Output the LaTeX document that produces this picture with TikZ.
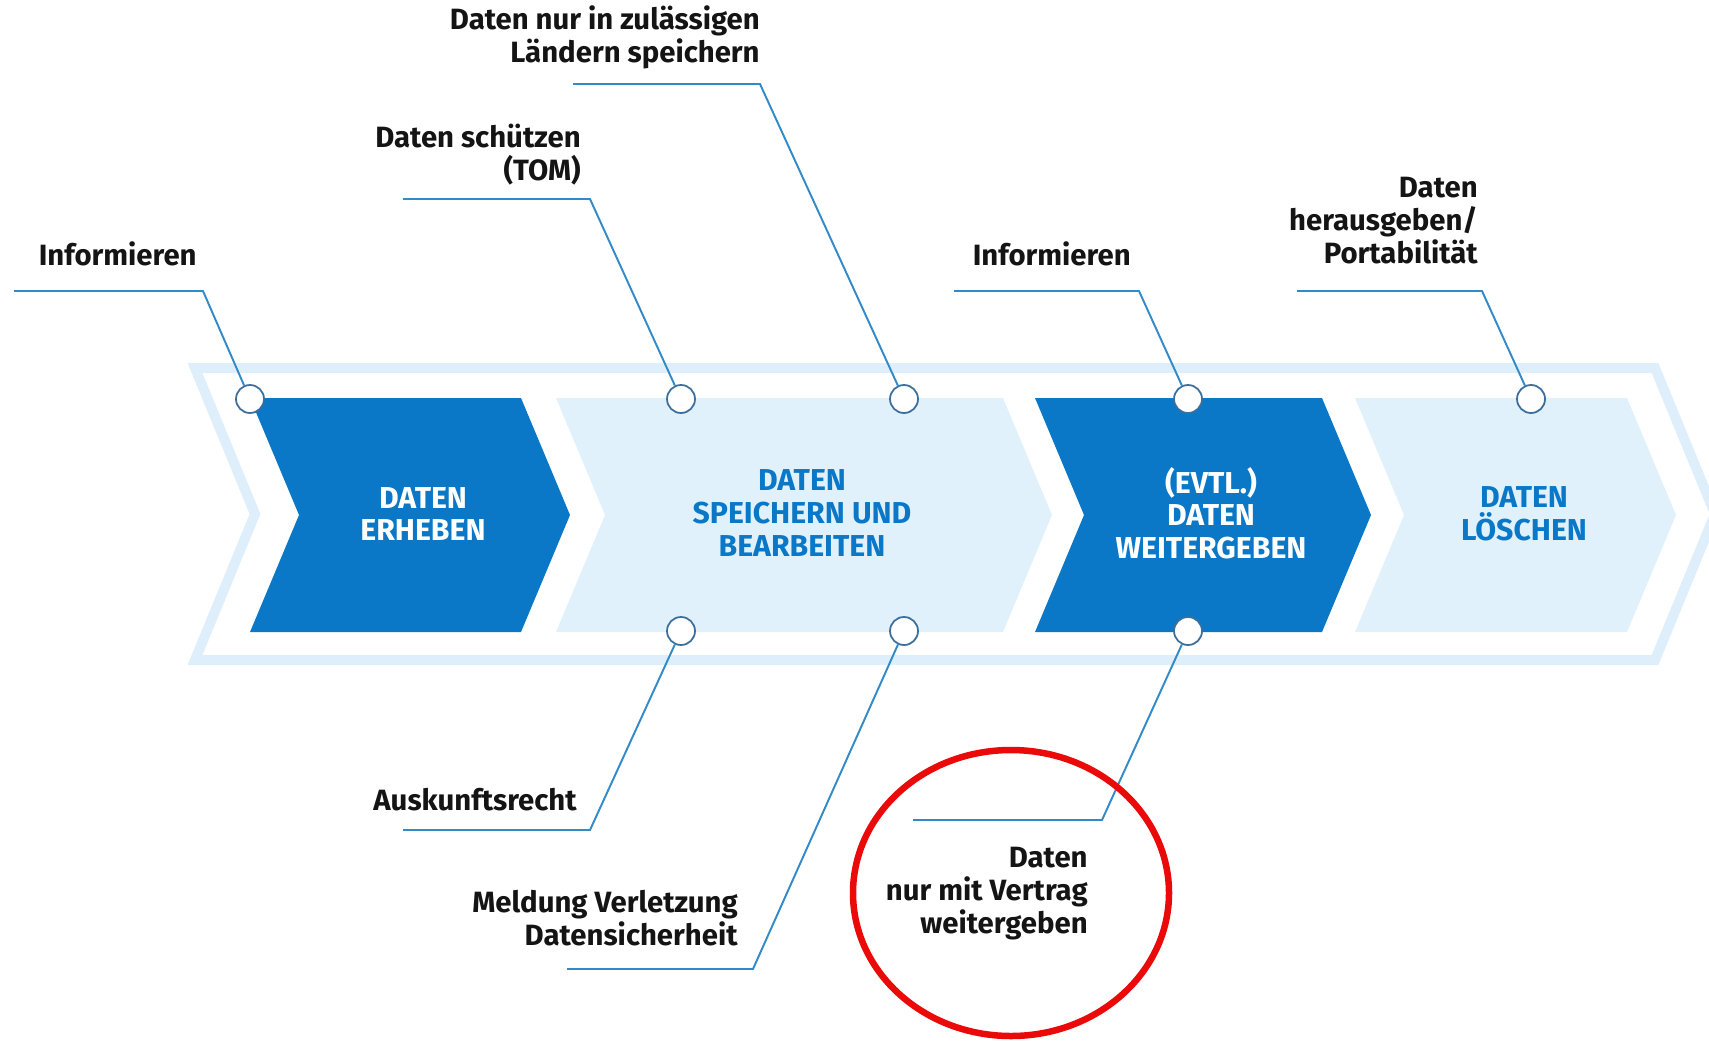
\documentclass[tikz,border=0pt]{standalone}
\usepackage{fontspec}
\setmainfont{Fira Sans}
\usepackage{tikz}
\usetikzlibrary{positioning}

\definecolor{darkchev}{RGB}{10,120,198}
\definecolor{lightchev}{RGB}{225,241,252}
\definecolor{bandblue}{RGB}{222,239,251}
\definecolor{leadblue}{RGB}{50,138,200}
\definecolor{holeblue}{RGB}{60,110,155}
\definecolor{notetext}{RGB}{20,20,20}
\definecolor{markred}{RGB}{235,10,10}

\begin{document}
\begin{tikzpicture}[x=0.02cm, y=-0.02cm,
        hole/.style={
                circle,
                draw=holeblue,
                fill=white,
                line width=1pt,
                minimum size=0.56cm,
                inner sep=0pt
            },
        leader/.style={
                draw=leadblue,
                line width=1.1pt
            },
        note/.style={
                anchor=base east,
                align=right,
                inner sep=0pt,
                text=notetext,
                font=\bfseries\fontsize{16.7}{18.6}\selectfont
            },
        phase/.style={
                align=center,
                inner sep=0pt,
                font=\bfseries\fontsize{17.2}{18.6}\selectfont
            },
    ]
    \useasboundingbox (0,0) rectangle (1709,1041);
    \clip (0,0) rectangle (1709,1041);
    %band
    \draw[bandblue, line width=0.2cm, line join=miter]
        (195,368) -- (1655,368) -- (1715,514) -- (1655,660) -- (195,660) -- (255,514) -- cycle;
    %chevrons
    \fill[darkchev] (250,398) -- (521,398) -- (570,515) -- (521,632) -- (250,632) -- (299,515) -- cycle;
    \fill[lightchev] (556,398) -- (1003,398) -- (1052,515) -- (1003,632) -- (556,632) -- (605,515) -- cycle;
    \fill[darkchev] (1035,398) -- (1322,398) -- (1371,515) -- (1322,632) -- (1035,632) -- (1084,515) -- cycle;
    \fill[lightchev] (1355,398) -- (1627,398) -- (1676,515) -- (1627,632) -- (1355,632) -- (1404,515) -- cycle;
    \node[phase, text=white] (erheben) at (423,514) {DATEN\\ERHEBEN};
    \node[phase, text=darkchev] (speichern) at (802,513) {DATEN\\SPEICHERN UND\\BEARBEITEN};
    \node[phase, text=white] (weitergeben) at (1211,513) {(EVTL.)\\DATEN\\WEITERGEBEN};
    \node[phase, text=darkchev] (loeschen) at (1524,514) {DATEN\\LÖSCHEN};
    %circles
    \node[hole] (c1) at (250,399) {};
    \node[hole] (c2) at (681,399) {};
    \node[hole] (c3) at (904,399) {};
    \node[hole] (c4) at (1188,399) {};
    \node[hole] (c5) at (1531,399) {};
    \node[hole] (c6) at (681,631) {};
    \node[hole] (c7) at (904,631) {};
    \node[hole] (c8) at (1188,631) {};
    %upper notes
    \coordinate (k1) at (203,291); \coordinate (e1) at (14,291);
    \coordinate (k2) at (590,199); \coordinate (e2) at (403,199);
    \coordinate (k3) at (760,84);  \coordinate (e3) at (573,84);
    \coordinate (k4) at (1139,291); \coordinate (e4) at (954,291);
    \coordinate (k5) at (1482,291); \coordinate (e5) at (1297,291);
    \draw[leader] (c1) -- (k1) -- (e1);
    \draw[leader] (c2) -- (k2) -- (e2);
    \draw[leader] (c3) -- (k3) -- (e3);
    \draw[leader] (c4) -- (k4) -- (e4);
    \draw[leader] (c5) -- (k5) -- (e5);
    \node[note] (info1) at (197,265) {Informieren};
    \node[note] (schutz) at (581,180) {Daten schützen\\(TOM)};
    \node[note] (laender) at (760,62) {Daten nur in zulässigen\\Ländern speichern};
    \node[note] (info2) at (1131,265) {Informieren};
    \node[note] (portab) at (1478,263) {Daten\\herausgeben/\\Portabilität};
    %lower notes
    \coordinate (k6) at (590,830); \coordinate (e6) at (403,830);
    \coordinate (k7) at (753,969); \coordinate (e7) at (567,969);
    \coordinate (k8) at (1102,820); \coordinate (e8) at (913,820);
    \draw[leader] (c6) -- (k6) -- (e6);
    \draw[leader] (c7) -- (k7) -- (e7);
    \draw[leader] (c8) -- (k8) -- (e8);
    \node[note] (auskunft) at (577,810) {Auskunftsrecht};
    \node[note] (meldung) at (738,945) {Meldung Verletzung\\Datensicherheit};
    \node[note] (vertrag) at (1088,933) {Daten\\nur mit Vertrag\\weitergeben};
    %mark
    \draw[markred, line width=0.13cm] (1011,893) ellipse [x radius=158, y radius=143];
\end{tikzpicture}
\end{document}
